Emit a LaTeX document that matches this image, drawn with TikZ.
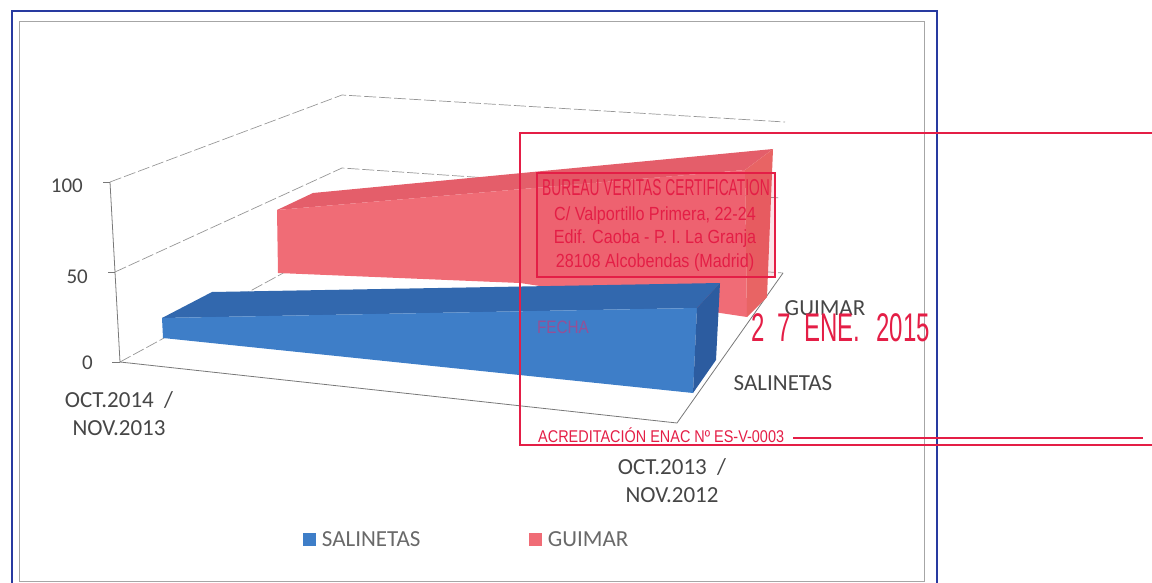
\documentclass[tikz,border=0pt]{standalone}
\usepackage{fontspec}
\usetikzlibrary{positioning}
\newfontfamily\chartfont{Carlito}
\newfontfamily\stampfont[FakeStretch=0.6]{Liberation Sans}
\newfontfamily\stampnarrow[FakeStretch=0.85]{Liberation Sans}
\definecolor{framebl}{RGB}{40,58,160}
\definecolor{salblue}{RGB}{62,126,200}
\definecolor{salbluetop}{RGB}{50,104,174}
\definecolor{salblueend}{RGB}{44,92,160}
\definecolor{guired}{RGB}{240,108,118}
\definecolor{guiredtop}{RGB}{228,94,106}
\definecolor{guiredend}{RGB}{232,100,100}
\definecolor{stampred}{RGB}{228,30,70}
\definecolor{stampfaint}{RGB}{150,80,150}
\definecolor{labelgray}{RGB}{70,70,70}
\definecolor{legendgray}{RGB}{105,105,105}
\definecolor{gridgray}{RGB}{150,150,150}
\tikzset{
    axis label/.style={font=\chartfont\fontsize{23}{28}\selectfont, text=labelgray, inner sep=0pt, align=center},
    tick label/.style={font=\chartfont\fontsize{21}{24}\selectfont, text=labelgray, inner sep=0pt, anchor=east},
    legend label/.style={font=\chartfont\fontsize{23}{26}\selectfont, text=legendgray, inner sep=0pt},
    legend key/.style={minimum size=13pt, inner sep=0pt},
    gridline/.style={gridgray, line width=0.7pt, dash pattern=on 12pt off 3pt},
    floorline/.style={gridgray!80!black, line width=0.8pt},
    stamp line/.style={stampred, line width=1.6pt},
    stamp text/.style={text=stampred, inner sep=0pt, align=center}
}
\begin{document}
\begin{tikzpicture}[x=1pt,y=-1pt]
    \useasboundingbox (0,0) rectangle (1152,583);
    % frame
    \draw[framebl, line width=2.4pt] (12,590) -- (12,11) -- (937,11) -- (937,590);
    \draw[gray!70, line width=0.8pt] (19,21) rectangle (924,581);
    % walls and floor
    \coordinate (lw100) at (110,182);
    \coordinate (lw50) at (115,272);
    \coordinate (lw0) at (120,362);
    \coordinate (bk100) at (342,95);
    \coordinate (bk50) at (342,168);
    \coordinate (bk0) at (342,241);
    \coordinate (rt100) at (785,122);
    \coordinate (rt50) at (780,198);
    \coordinate (rt0) at (783,273);
    \coordinate (fr0) at (677,423);
    \draw[gridline] (lw100) -- (bk100) -- (rt100);
    \draw[gridline] (lw50) -- (bk50) -- (rt50);
    \draw[gridline] (lw0) -- (bk0) -- (rt0);
    \draw[floorline] (lw100) -- (lw0) -- (fr0) -- (rt0);
    \draw[floorline] (lw100) -- ++(-7,0) (lw50) -- ++(-7,0) (lw0) -- ++(-8,0);
    % GUIMAR
    \fill[guiredtop] (277,210) -- (313,193) -- (773,149) -- (745,170) -- cycle;
    \fill[guired] (277,210) -- (745,170) -- (747,317) -- (520,283) -- (278,273) -- cycle;
    \fill[guiredend] (745,170) -- (773,149) -- (767,297) -- (747,317) -- cycle;
    % SALINETAS
    \fill[salbluetop] (162,318) -- (212,292) -- (720,283) -- (697,308) -- cycle;
    \fill[salblue] (162,318) -- (697,308) -- (693,393) -- (163,338) -- cycle;
    \fill[salblueend] (697,308) -- (720,283) -- (716,360) -- (693,393) -- cycle;
    % labels
    \node[tick label] (tick100) at (83,186) {100};
    \node[tick label] (tick50) at (88,277) {50};
    \node[tick label] (tick0) at (93,363) {0};
    \node[axis label] (catleft) at (119,414) {OCT.2014\ \ /\\NOV.2013};
    \node[axis label] (catright) at (672,481) {OCT.2013\ \ /\\NOV.2012};
    \node[axis label] (serguimar) at (825,308) {GUIMAR};
    \node[axis label] (sersalinetas) at (783,383) {SALINETAS};
    \node[legend key, fill=salblue] (keysal) at (309,539) {};
    \node[legend label, right=6pt of keysal] (legsal) {SALINETAS};
    \node[legend key, fill=guired] (keygui) at (535,539) {};
    \node[legend label, right=6pt of keygui] (leggui) {GUIMAR};
    % stamp
    \draw[stamp line] (519,133) -- (1152,133);
    \draw[stamp line] (520,133) -- (520,445) -- (1152,445);
    \draw[stamp line] (793,438) -- (1143,438);
    \draw[stampred, line width=1.3pt, fill=stampred, fill opacity=0.12] (537,173) rectangle (775,277);
    \node[stamp text, font=\stampfont\fontsize{23}{26}\selectfont] (stamphead) at (656,188) {BUREAU VERITAS CERTIFICATION};
    \node[stamp text, font=\stampnarrow\fontsize{19}{23.5}\selectfont] (stampaddr) at (655,239) {C/ Valportillo Primera, 22-24\\Edif. Caoba - P. I. La Granja\\28108 Alcobendas (Madrid)};
    \node[stamp text, text=stampfaint, font=\stampnarrow\fontsize{18}{20}\selectfont] (stampfecha) at (563,327) {FECHA};
    \node[stamp text, font=\stampfont\fontsize{40}{44}\selectfont] (stampdate) at (841,328) {2\hspace{12pt}7\hspace{14pt}ENE.\hspace{16pt}2015};
    \node[stamp text, anchor=west, font=\stampnarrow\fontsize{17}{20}\selectfont] (stampenac) at (538,435) {ACREDITACIÓN ENAC Nº ES-V-0003};
\end{tikzpicture}
\end{document}
